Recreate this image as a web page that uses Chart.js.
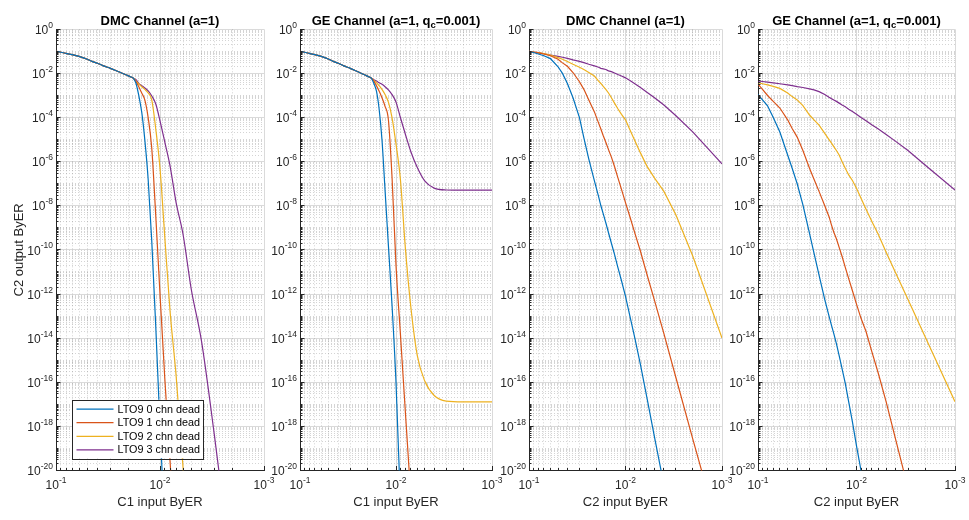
<!DOCTYPE html>
<html>
<head>
<meta charset="utf-8">
<script src="https://cdn.jsdelivr.net/npm/chart.js@4.4.0/dist/chart.umd.min.js"></script>
<style>
  html, body { margin: 0; padding: 0; background: #fff; }
  #fig { position: relative; width: 969px; height: 520px; }
  #fig canvas { position: absolute; left: 0; top: 0; }
</style>
</head>
<body>
<div id="fig">
  <canvas id="p0" width="969" height="520"></canvas>
  <canvas id="p1" width="969" height="520"></canvas>
  <canvas id="p2" width="969" height="520"></canvas>
  <canvas id="p3" width="969" height="520"></canvas>
</div>
<script>
// byte error rate at the decoder input, same sweep for every panel
const inputBer = [0.1, 0.09, 0.08, 0.07, 0.06, 0.05, 0.045, 0.04, 0.035, 0.03,
  0.027, 0.024, 0.021, 0.019, 0.018, 0.017, 0.016, 0.015, 0.014, 0.013,
  0.012, 0.011, 0.010, 0.009, 0.008, 0.007, 0.006, 0.005, 0.004, 0.003,
  0.002, 0.001];

const seriesNames = ['LTO9 0 chn dead', 'LTO9 1 chn dead', 'LTO9 2 chn dead', 'LTO9 3 chn dead'];
const seriesColors = ['#0072BD', '#D95319', '#EDB120', '#7E2F8E'];

const panelTitles = ['DMC Channel (a=1)', 'GE Channel (a=1, q_c=0.001)',
  'DMC Channel (a=1)', 'GE Channel (a=1, q_c=0.001)'];
const xTitles = ['C1 input ByER', 'C1 input ByER', 'C2 input ByER', 'C2 input ByER'];
const yTitle = 'C2 output ByER';
const xExponents = [-1, -2, -3];
const yExponents = [0, -2, -4, -6, -8, -10, -12, -14, -16, -18, -20];

// DMC channel, C1 input -> C2 output
const dmcC1Dead0 = [1e-1, 9.1e-2, 8.1e-2, 7.1e-2, 5.9e-2, 4.4e-2, 3.5e-2, 2.9e-2, 2.2e-2, 1.7e-2,
  1.4e-2, 1.1e-2, 8.5e-3, 6.9e-3, 6.0e-3, 3.5e-3, 1e-3, 1.8e-4, 1e-5, 1.6e-7,
  2.5e-10, 4e-14, 1e-18, 2.5e-23, null, null, null, null, null, null, null, null];
const dmcC1Dead1 = [1e-1, 9.1e-2, 8.1e-2, 7.1e-2, 5.9e-2, 4.4e-2, 3.5e-2, 2.9e-2, 2.2e-2, 1.7e-2,
  1.4e-2, 1.1e-2, 8.5e-3, 6.9e-3, 6.0e-3, 4.2e-3, 2.5e-3, 1.3e-3, 6.3e-4, 1e-4,
  4e-6, 4e-9, 1e-12, 1.6e-16, 2.5e-20, 1e-24, null, null, null, null, null, null];
const dmcC1Dead2 = [1e-1, 9.1e-2, 8.1e-2, 7.1e-2, 5.9e-2, 4.4e-2, 3.5e-2, 2.9e-2, 2.2e-2, 1.7e-2,
  1.4e-2, 1.1e-2, 8.5e-3, 6.9e-3, 6.0e-3, 4.5e-3, 3.3e-3, 2.5e-3, 1.9e-3, 1.3e-3,
  6.3e-4, 3.2e-5, 5e-7, 4e-10, 1.6e-13, 2e-16, 1.3e-20, 1e-24, null, null, null, null];
const dmcC1Dead3 = [1e-1, 9.1e-2, 8.1e-2, 7.1e-2, 5.9e-2, 4.4e-2, 3.5e-2, 2.9e-2, 2.2e-2, 1.7e-2,
  1.4e-2, 1.1e-2, 8.5e-3, 6.9e-3, 6.0e-3, 5.2e-3, 3.5e-3, 2.8e-3, 2.2e-3, 1.6e-3,
  9.5e-4, 4.2e-4, 7.1e-5, 7.9e-6, 6.3e-7, 1.4e-8, 5e-10, 1.6e-12, 7.9e-15, 4e-19, 1e-25, null];

// GE channel, C1 input -> C2 output
const geC1Dead0 = [1e-1, 9.1e-2, 8.1e-2, 7.1e-2, 5.9e-2, 4.4e-2, 3.5e-2, 2.9e-2, 2.2e-2, 1.7e-2,
  1.4e-2, 1.1e-2, 8.5e-3, 6.9e-3, 6.0e-3, 3.5e-3, 1.6e-3, 2.5e-4, 1e-5, 5e-8,
  1.6e-10, 3.2e-13, 1e-16, 3.2e-22, null, null, null, null, null, null, null, null];
const geC1Dead1 = [1e-1, 9.1e-2, 8.1e-2, 7.1e-2, 5.9e-2, 4.4e-2, 3.5e-2, 2.9e-2, 2.2e-2, 1.7e-2,
  1.4e-2, 1.1e-2, 8.5e-3, 6.9e-3, 6.0e-3, 4.5e-3, 2.8e-3, 1.6e-3, 7.9e-4, 3.2e-4,
  7.9e-5, 2e-7, 2e-11, 1.6e-14, 5e-18, 6.3e-22, null, null, null, null, null, null];
const geC1Dead2 = [1e-1, 9.1e-2, 8.1e-2, 7.1e-2, 5.9e-2, 4.4e-2, 3.5e-2, 2.9e-2, 2.2e-2, 1.7e-2,
  1.4e-2, 1.1e-2, 8.5e-3, 6.9e-3, 6.0e-3, 4.8e-3, 3.8e-3, 2.8e-3, 1.9e-3, 1.1e-3,
  5e-4, 1e-4, 6.3e-6, 1.6e-7, 1.3e-10, 2.5e-13, 1.6e-15, 1.1e-16, 2.5e-17, 1.4e-17, 1.3e-17, 1.3e-17];
const geC1Dead3 = [1e-1, 9.1e-2, 8.1e-2, 7.1e-2, 5.9e-2, 4.4e-2, 3.5e-2, 2.9e-2, 2.2e-2, 1.7e-2,
  1.4e-2, 1.1e-2, 8.5e-3, 6.9e-3, 6.0e-3, 5.2e-3, 4.5e-3, 3.8e-3, 3.2e-3, 2.5e-3,
  1.8e-3, 1.1e-3, 5e-4, 1e-4, 1.8e-5, 2.8e-6, 5.4e-7, 1.3e-7, 6.3e-8, 5.2e-8, 5.1e-8, 5.1e-8];

// DMC channel, C2 input -> C2 output
const dmcC2Dead0 = [1e-1, 8.9e-2, 7.6e-2, 6.3e-2, 4.7e-2, 2e-2, 1e-2, 3.5e-3, 7.9e-4, 1e-4,
  1.2e-5, 1.3e-6, 1.35e-7, 2.6e-8, 1e-8, 4.3e-9, 1.7e-9, 6e-10, 2e-10, 6.3e-11,
  1.6e-11, 4e-12, 7.9e-13, 1e-13, 1e-14, 6.3e-16, 2e-17, 3.2e-19, 2.2e-21, null, null, null];
const dmcC2Dead1 = [1e-1, 9.3e-2, 8.5e-2, 7.6e-2, 6.3e-2, 4.4e-2, 3e-2, 2.1e-2, 1.1e-2, 4.2e-3,
  1.9e-3, 6.2e-4, 1.8e-4, 5.6e-5, 3e-5, 1.5e-5, 7.6e-6, 3.5e-6, 1.6e-6, 6e-7,
  1.9e-7, 5.5e-8, 1.4e-8, 3.2e-9, 5.8e-10, 8.7e-11, 7.9e-12, 5e-13, 1.6e-14, 1.6e-16, 2.5e-19, 5e-24];
const dmcC2Dead2 = [1e-1, 9.3e-2, 8.7e-2, 7.9e-2, 6.8e-2, 5.2e-2, 4.4e-2, 3.5e-2, 2.6e-2, 1.9e-2,
  1.5e-2, 1.1e-2, 7.6e-3, 4.5e-3, 3.5e-3, 2.6e-3, 1.9e-3, 1.3e-3, 7.9e-4, 4.5e-4,
  2.5e-4, 1.4e-4, 7.9e-5, 2.8e-5, 8.9e-6, 2.5e-6, 6.3e-7, 1.8e-7, 4.5e-8, 3.8e-9, 5e-11, 1e-14];
const dmcC2Dead3 = [1e-1, 9.3e-2, 8.7e-2, 7.8e-2, 6.8e-2, 5.9e-2, 5.4e-2, 4.8e-2, 4.1e-2, 3.5e-2,
  3.1e-2, 2.6e-2, 2.2e-2, 1.9e-2, 1.7e-2, 1.6e-2, 1.5e-2, 1.3e-2, 1.2e-2, 1.05e-2,
  8.9e-3, 7.6e-3, 6.3e-3, 4.8e-3, 3.4e-3, 2.3e-3, 1.4e-3, 7.9e-4, 3.7e-4, 1.2e-4, 2.2e-5, 7.9e-7];

// GE channel, C2 input -> C2 output
const geC2Dead0 = [1.1e-3, 6.3e-4, 3.4e-4, 1e-4, 2.2e-5, 2e-6, 5e-7, 1e-7, 1.1e-8, 5.6e-10,
  7.1e-11, 7.1e-12, 5.6e-13, 1e-13, 4e-14, 1.6e-14, 5.6e-15, 1.6e-15, 4e-16, 8.9e-17,
  1.3e-17, 1.6e-18, 1.3e-19, 1e-20, 6.3e-22, null, null, null, null, null, null, null];
const geC2Dead1 = [3.3e-3, 1.9e-3, 1e-3, 5.4e-4, 2.7e-4, 7.9e-5, 3.2e-5, 1.3e-5, 3.2e-6, 5e-7,
  1.6e-7, 4.5e-8, 1e-8, 3.2e-9, 1.4e-9, 6.3e-10, 3.2e-10, 1.3e-10, 5e-11, 1.6e-11,
  5e-12, 1.4e-12, 3.5e-13, 7.9e-14, 2e-14, 2.5e-15, 2.5e-16, 1.3e-17, 2.5e-19, 1.6e-21, null, null];
const geC2Dead2 = [3.8e-3, 3.4e-3, 3e-3, 2.6e-3, 2.1e-3, 1.3e-3, 8.9e-4, 6.3e-4, 3.5e-4, 1.3e-4,
  7.9e-5, 4.5e-5, 1.9e-5, 1e-5, 7.1e-6, 4.8e-6, 3.2e-6, 2e-6, 1e-6, 5e-7,
  2.5e-7, 1.4e-7, 6.3e-8, 2.2e-8, 7e-9, 2e-9, 5e-10, 7.9e-11, 8.9e-12, 5.6e-13, 1.1e-14, 1.3e-17];
const geC2Dead3 = [4.6e-3, 4.3e-3, 4e-3, 3.7e-3, 3.4e-3, 3e-3, 2.8e-3, 2.5e-3, 2.3e-3, 2e-3,
  1.8e-3, 1.5e-3, 1.1e-3, 8.3e-4, 7.2e-4, 6.3e-4, 5.4e-4, 4.5e-4, 3.7e-4, 3.1e-4,
  2.4e-4, 1.9e-4, 1.4e-4, 1e-4, 7.2e-5, 4.7e-5, 3e-5, 1.7e-5, 8.3e-6, 3.2e-6, 6.9e-7, 5.2e-8];

const panelSeries = [
  [dmcC1Dead0, dmcC1Dead1, dmcC1Dead2, dmcC1Dead3],
  [geC1Dead0, geC1Dead1, geC1Dead2, geC1Dead3],
  [dmcC2Dead0, dmcC2Dead1, dmcC2Dead2, dmcC2Dead3],
  [geC2Dead0, geC2Dead1, geC2Dead2, geC2Dead3],
];

// plot box of each axes in page pixels
const FIG_W = 969;
const FIG_H = 520;
const AX_TOP = 29.3;
const AX_BOTTOM = 470.5;
const axesLeft = [56, 300, 529, 758];
const axesRight = [264, 492, 722, 955];

const FONT = '"Liberation Sans", Arial, Helvetica, sans-serif';
const INK = '#262626';
const MAJOR_GRID = 'rgba(38,38,38,0.17)';
const MINOR_GRID = 'rgba(38,38,38,0.2)';

// 1..9 x 10^e for each decade, "main" marks the ticks that get a label
const logTicks = (lo, hi, step) => {
  const ticks = [];
  for (let e = lo; e < hi; e++) {
    for (let m = 1; m < 10; m++) {
      ticks.push({value: m * Math.pow(10, e), main: m === 1 && e % step === 0});
    }
  }
  ticks.push({value: Math.pow(10, hi), main: hi % step === 0});
  return ticks;
};

const powerWidth = (ctx, exp) => {
  ctx.font = `12px ${FONT}`;
  const wb = ctx.measureText('10').width;
  ctx.font = `8.5px ${FONT}`;
  return [wb, ctx.measureText(String(exp)).width];
};

const drawPower = (ctx, exp, x, y, align) => {
  const [wb, ws] = powerWidth(ctx, exp);
  const x0 = align === 'right' ? x - wb - ws : x - (wb + ws) / 2;
  ctx.textAlign = 'left';
  ctx.textBaseline = 'alphabetic';
  ctx.font = `12px ${FONT}`;
  ctx.fillText('10', x0, y);
  ctx.font = `8.5px ${FONT}`;
  ctx.fillText(String(exp), x0 + wb, y - 6.2);
};

// bold title, "_c" becomes a subscript
const drawTitle = (ctx, text, cx, y) => {
  const parts = text.split('_');
  const pieces = [{t: parts[0], sub: false}];
  if (parts.length > 1) {
    pieces.push({t: parts[1][0], sub: true});
    pieces.push({t: parts[1].slice(1), sub: false});
  }
  const fontOf = (p) => `bold ${p.sub ? 9.5 : 13}px ${FONT}`;
  let total = 0;
  pieces.forEach((p) => {
    ctx.font = fontOf(p);
    p.w = ctx.measureText(p.t).width;
    total += p.w;
  });
  let x = cx - total / 2;
  ctx.fillStyle = '#000';
  ctx.textAlign = 'left';
  ctx.textBaseline = 'alphabetic';
  pieces.forEach((p) => {
    ctx.font = fontOf(p);
    ctx.fillText(p.t, x, p.sub ? y + 3 : y);
    x += p.w;
  });
};

const drawLegend = (chart) => {
  const {ctx, chartArea: a} = chart;
  const w = 130.5;
  const h = 58.5;
  const x = a.left + 16;
  const y = a.bottom - 12.2 - h;
  ctx.save();
  ctx.fillStyle = '#fff';
  ctx.fillRect(x, y, w, h);
  ctx.strokeStyle = INK;
  ctx.lineWidth = 1;
  ctx.strokeRect(Math.round(x) + 0.5, Math.round(y) + 0.5, Math.round(w), Math.round(h));
  ctx.font = `10.8px ${FONT}`;
  ctx.textAlign = 'left';
  ctx.textBaseline = 'middle';
  chart.data.datasets.forEach((ds, i) => {
    const ry = y + 9.3 + i * 13.6;
    ctx.strokeStyle = ds.borderColor;
    ctx.lineWidth = 1.2;
    ctx.beginPath();
    ctx.moveTo(x + 4.5, ry);
    ctx.lineTo(x + 41.5, ry);
    ctx.stroke();
    ctx.fillStyle = '#000';
    ctx.fillText(ds.label, x + 45.5, ry + 0.5);
  });
  ctx.restore();
};

const align = (p) => Math.round(p - 0.5) + 0.5;

// inward tick marks, tick labels, titles and legend
const matlabAxes = {
  id: 'matlabAxes',
  afterDraw(chart, args, opts) {
    const {ctx, chartArea: a, scales: {x, y}} = chart;
    const idx = opts.index;
    ctx.save();
    ctx.strokeStyle = INK;
    ctx.lineWidth = 1;
    ctx.beginPath();
    x.ticks.forEach((t) => {
      const px = align(x.getPixelForValue(t.value));
      const len = t.main ? 4.5 : 2.5;
      ctx.moveTo(px, a.bottom);
      ctx.lineTo(px, a.bottom - len);
    });
    y.ticks.forEach((t) => {
      const py = align(y.getPixelForValue(t.value));
      const len = t.main ? 4.5 : 2.5;
      ctx.moveTo(a.left, py);
      ctx.lineTo(a.left + len, py);
    });
    ctx.stroke();

    ctx.fillStyle = INK;
    xExponents.forEach((e) => {
      drawPower(ctx, e, x.getPixelForValue(Math.pow(10, e)), a.bottom + 18.5, 'center');
    });
    yExponents.forEach((e) => {
      drawPower(ctx, e, a.left - 3, y.getPixelForValue(Math.pow(10, e)) + 4.7, 'right');
    });

    ctx.font = `13px ${FONT}`;
    ctx.textAlign = 'center';
    ctx.textBaseline = 'alphabetic';
    ctx.fillText(xTitles[idx], (a.left + a.right) / 2, 506);
    if (idx === 0) {
      ctx.save();
      ctx.translate(23.3, (a.top + a.bottom) / 2);
      ctx.rotate(-Math.PI / 2);
      ctx.fillText(yTitle, 0, 0);
      ctx.restore();
    }
    drawTitle(ctx, panelTitles[idx], (a.left + a.right) / 2, 24.5);
    ctx.restore();
    if (idx === 0) drawLegend(chart);
  },
};

const logAxis = (lo, hi, step, horizontal) => ({
  type: 'logarithmic',
  min: Math.pow(10, lo),
  max: Math.pow(10, hi),
  reverse: horizontal,
  position: horizontal ? 'bottom' : 'left',
  afterBuildTicks: (s) => {
    s.ticks = logTicks(lo, hi, step);
  },
  afterFit: (s) => {
    if (horizontal) s.height = 0; else s.width = 0;
  },
  ticks: {display: false},
  grid: {
    drawTicks: false,
    tickLength: 0,
    lineWidth: 1,
    color: (c) => (c.tick && c.tick.main ? MAJOR_GRID : MINOR_GRID),
  },
  border: {
    display: true,
    color: INK,
    width: 1,
    dash: (c) => (c.tick && !c.tick.main ? [1, 2] : []),
  },
});

panelSeries.forEach((series, idx) => {
  new Chart(document.getElementById('p' + idx), {
    type: 'line',
    data: {
      datasets: series.map((ys, k) => ({
        label: seriesNames[k],
        data: inputBer.map((xv, i) => ({x: xv, y: ys[i]})),
        borderColor: seriesColors[k],
        backgroundColor: seriesColors[k],
        borderWidth: 1.2,
        pointRadius: 0,
        // the C1 sweeps bend sharply, round the knees off
        cubicInterpolationMode: idx < 2 ? 'monotone' : 'default',
        tension: 0,
        spanGaps: false,
      })),
    },
    options: {
      responsive: false,
      animation: false,
      events: [],
      layout: {
        padding: {
          left: axesLeft[idx],
          right: FIG_W - axesRight[idx],
          top: AX_TOP,
          bottom: FIG_H - AX_BOTTOM,
        },
      },
      plugins: {
        legend: {display: false},
        tooltip: {enabled: false},
        matlabAxes: {index: idx},
      },
      scales: {
        x: logAxis(-3, -1, 1, true),
        y: logAxis(-20, 0, 2, false),
      },
    },
    plugins: [matlabAxes],
  });
});
</script>
</body>
</html>
